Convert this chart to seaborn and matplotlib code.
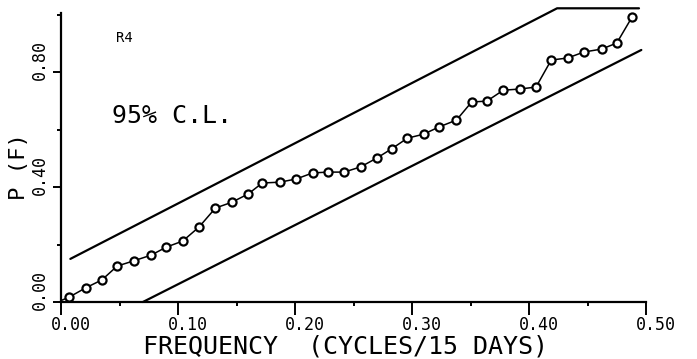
import numpy as np
import pandas as pd
import matplotlib
matplotlib.use("Agg")
import matplotlib.pyplot as plt
import matplotlib.transforms as mtransforms
import seaborn as sns

# ---- data ----
freq = [0.007, 0.021, 0.035, 0.048, 0.062, 0.077, 0.090, 0.104, 0.118, 0.132,
        0.146, 0.160, 0.172, 0.187, 0.201, 0.215, 0.228, 0.242, 0.256, 0.270,
        0.283, 0.296, 0.310, 0.323, 0.338, 0.351, 0.364, 0.378, 0.392, 0.406,
        0.419, 0.433, 0.447, 0.462, 0.475, 0.488]
pf = [0.017, 0.049, 0.077, 0.125, 0.143, 0.163, 0.191, 0.212, 0.261, 0.327,
      0.347, 0.376, 0.414, 0.417, 0.428, 0.449, 0.452, 0.452, 0.470, 0.501,
      0.534, 0.570, 0.584, 0.609, 0.633, 0.696, 0.699, 0.737, 0.741, 0.748,
      0.842, 0.849, 0.870, 0.880, 0.901, 0.991]
curve_start_f = [0.0]
curve_start_p = [0.005]

upper_f = [0.008, 0.424, 0.494]
upper_p = [0.150, 1.022, 1.022]
lower_f = [0.070, 0.496]
lower_p = [0.000, 0.877]

xticks = [0.00, 0.10, 0.20, 0.30, 0.40, 0.50]
xticklabels = ["0.00", "0.10", "0.20", "0.30", "0.40", "0.50"]
yticks = [0.00, 0.40, 0.80]
yticklabels = ["0.00", "0.40", "0.80"]

sns.set_style("ticks")
plt.rcParams["font.family"] = ["DejaVu Sans Mono", "DejaVu Sans"]
plt.rcParams.update({
    "text.color": "black",
    "axes.labelcolor": "black",
    "axes.edgecolor": "black",
    "xtick.color": "black",
    "ytick.color": "black",
})

fig = plt.figure(figsize=(6.97, 3.59), dpi=100)
ax = fig.add_axes([61 / 697, 57 / 359, 585 / 697, 296 / 359])

curve = pd.DataFrame({"f": curve_start_f + freq, "p": curve_start_p + pf})
pts = pd.DataFrame({"f": freq, "p": pf})
up = pd.DataFrame({"f": upper_f, "p": upper_p})
lo = pd.DataFrame({"f": lower_f, "p": lower_p})

sns.lineplot(data=up, x="f", y="p", ax=ax, color="black", lw=1.6,
             sort=False, estimator=None, clip_on=False)
sns.lineplot(data=lo, x="f", y="p", ax=ax, color="black", lw=1.6,
             sort=False, estimator=None, clip_on=False)
sns.lineplot(data=curve, x="f", y="p", ax=ax, color="black", lw=1.1,
             sort=False, estimator=None, clip_on=False)
sns.scatterplot(data=pts, x="f", y="p", ax=ax, marker="o", s=34,
                facecolor="white", edgecolor="black", linewidth=1.6,
                zorder=5, clip_on=False)

ax.set_xlim(0, 0.5)
ax.set_ylim(0, 1.03)
ax.spines["top"].set_visible(False)
ax.spines["right"].set_visible(False)
ax.spines["left"].set_bounds(0, 1.005)
for s in ("left", "bottom"):
    ax.spines[s].set_linewidth(1.6)
    ax.spines[s].set_color("black")

ax.set_xticks(xticks)
ax.set_xticklabels(xticklabels, fontsize=12)
ax.set_xticks(np.arange(0.05, 0.5, 0.1), minor=True)
ax.set_yticks(yticks)
ax.set_yticklabels(yticklabels, fontsize=12, rotation=90, va="center")
ax.set_yticks([0.2, 0.6, 1.0], minor=True)
ax.tick_params(axis="x", which="major", direction="out", length=9, width=1.4, pad=1)
ax.tick_params(axis="y", which="major", direction="out", length=6, width=1.4, pad=3)
ax.tick_params(which="minor", direction="out", length=3, width=1.4)

# tick labels are offset toward the reading direction, as on the plotter
dx = mtransforms.ScaledTranslation(10 / 100, 0, fig.dpi_scale_trans)
for lab in ax.get_xticklabels():
    lab.set_transform(lab.get_transform() + dx)
dy = mtransforms.ScaledTranslation(0, 12 / 100, fig.dpi_scale_trans)
for lab in ax.get_yticklabels():
    lab.set_transform(lab.get_transform() + dy)

ax.set_xlabel("FREQUENCY  (CYCLES/15 DAYS)", fontsize=18)
ax.xaxis.set_label_coords(0.487, -0.11)
ax.set_ylabel("P (F)", fontsize=16)
ax.yaxis.label.set_va("center")
ax.yaxis.set_label_coords(-0.072, 0.459)

ax.text(0.0435, 0.623, "95% C.L.", fontsize=18, va="baseline", ha="left")
ax.text(0.047, 0.904, "R4", fontsize=10, va="baseline", ha="left")

fig.savefig("out.png", dpi=100)
